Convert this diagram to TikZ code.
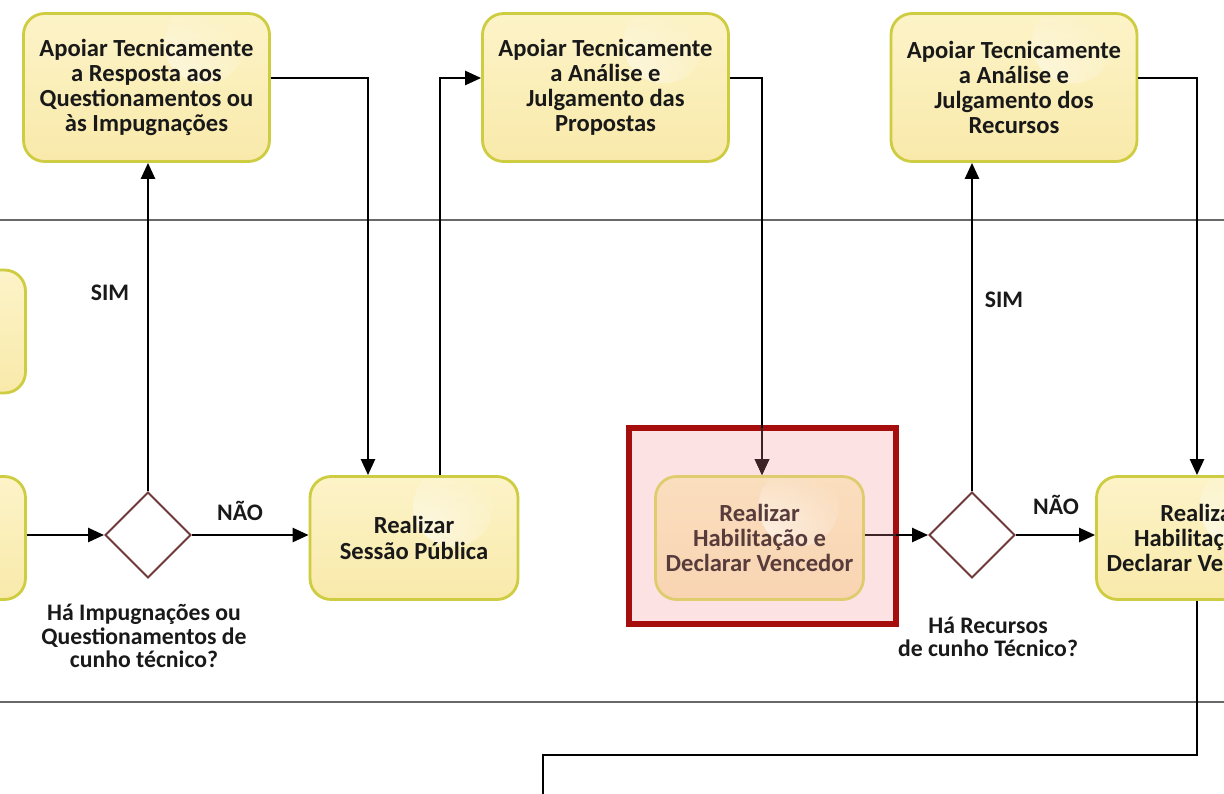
\documentclass[tikz,border=0pt]{standalone}
\usepackage{fontspec}
\setmainfont{Carlito}
\usetikzlibrary{arrows.meta,shapes.geometric,fadings,calc}

\definecolor{taskfill}{RGB}{249,234,170}
\definecolor{tasktop}{RGB}{252,243,200}
\definecolor{taskborder}{RGB}{206,204,64}
\definecolor{gwborder}{RGB}{112,58,58}
\definecolor{hlborder}{RGB}{166,14,14}
\definecolor{hlfill}{RGB}{253,226,228}
\definecolor{selfill}{RGB}{249,212,178}
\definecolor{seltop}{RGB}{250,222,190}
\definecolor{selborder}{RGB}{222,204,110}
\definecolor{seltext}{RGB}{88,60,60}
\definecolor{selarrow}{RGB}{60,35,38}
\definecolor{laneline}{RGB}{105,105,105}

% soft highlight spot inside the boxes
\tikzfading[name=softspot, inner color=transparent!0, outer color=transparent!100]

\tikzset{
  boxfont/.style={font=\bfseries\fontsize{14}{14.3}\selectfont},
  tagfont/.style={font=\bfseries\fontsize{13.5}{13.4}\selectfont},
  glow/.style={path picture={\fill[white,opacity=0.6,path fading=softspot]
      ([xshift=-1.3cm,yshift=-0.6cm]path picture bounding box.north east) circle (0.8cm);}},
  taskbox/.style={draw=taskborder, line width=1.6pt, rounded corners=0.42cm,
      top color=tasktop, bottom color=taskfill, glow,
      minimum width=4.16cm, minimum height=2.46cm, align=center, boxfont,
      text=black!90, inner sep=2pt},
  supportbox/.style={taskbox, minimum width=4.92cm, minimum height=2.96cm},
  selbox/.style={taskbox, draw=selborder, top color=seltop, bottom color=selfill, text=seltext},
  hlbox/.style={draw=hlborder, line width=2.9pt, fill=hlfill,
      minimum width=5.34cm, minimum height=3.92cm, inner sep=0pt},
  gateway/.style={diamond, draw=gwborder, line width=1.1pt, fill=white,
      minimum width=1.72cm, minimum height=1.72cm, inner sep=0pt},
  flow/.style={line width=1.4pt, -{Triangle[length=0.32cm,width=0.28cm]}},
  plainflow/.style={line width=1.4pt},
  tag/.style={tagfont, text=black!90, align=center, inner sep=0pt},
  lane/.style={draw=laneline, line width=1pt}
}

\begin{document}
\begin{tikzpicture}[x=0.02cm, y=-0.02cm]
  \useasboundingbox (0,0) rectangle (1224,794);
  \clip (0,0) rectangle (1224,794);

  % lane dividers
  \draw[lane] (0,220) -- (1224,220);
  \draw[lane] (0,702) -- (1224,702);

  % support tasks (upper lane)
  \node[supportbox] (a1) at (146.5,87.5) {Apoiar Tecnicamente\\a Resposta aos\\Questionamentos ou\\às Impugnações};
  \node[supportbox] (a2) at (605.5,87.5) {Apoiar Tecnicamente\\a Análise e\\Julgamento das\\Propostas};
  \node[supportbox] (a3) at (1014,87.5) {Apoiar Tecnicamente\\a Análise e\\Julgamento dos\\Recursos};

  % tasks cut by the left edge
  \node[taskbox] (l1) at (-78.5,331.5) {};
  \node[taskbox] (l2) at (-78.5,538) {};

  % main lane
  \node[gateway] (g1) at (148,535) {};
  \node[taskbox] (s1) at (414,538) {Realizar\\Sessão Pública};

  \node[hlbox] (hl) at (762.5,526) {};
  \node[selbox] (t1) at (759.5,538) {Realizar\\Habilitação e\\Declarar Vencedor};

  \node[gateway] (g2) at (972,535) {};
  \node[taskbox] (t2) at (1200.5,538) {Realizar\\Habilitação e\\Declarar Vencedor};

  % gateway captions
  \node[tag] (q1) at (144,636) {Há Impugnações ou\\Questionamentos de\\cunho técnico?};
  \node[tag] (q2) at (988,637) {Há Recursos\\de cunho Técnico?};

  % connectors
  \draw[flow] (l2.east |- g1.west) -- (g1.west);
  \draw[flow] (g1.east) -- (g1.east -| s1.west);
  \node[tag] (n1) at (240,511) {NÃO};
  \draw[flow] (g1.north) -- (g1.north |- a1.south);
  \node[tag] (y1) at (110,293) {SIM};

  \draw[flow] ($(a1.east)+(0,-9.5)$) -| ($(s1.north)+(-46,0)$);
  \draw[flow] ($(s1.north)+(26,0)$) |- ($(a2.west)+(0,-9.5)$);

  % the flow into the highlighted task turns darker inside the frame
  \coordinate (intop) at ($(t1.north)+(2.5,0)$);
  \draw[flow] ($(a2.east)+(0,-9.5)$) -| (intop);
  \draw[flow, color=selarrow] ([yshift=-1.5pt]intop |- hl.north) -- (intop);

  \draw[flow] (g2.west -| t1.east) -- (g2.west);
  \draw[plainflow, color=selarrow] (g2.west -| t1.east) -- ([xshift=-1.5pt]g2.west -| hl.east);
  \draw[flow] (g2.east) -- (g2.east -| t2.west);
  \node[tag] (n2) at (1056,505) {NÃO};
  \draw[flow] (g2.north) -- (g2.north |- a3.south);
  \node[tag] (y2) at (1004,300) {SIM};

  \draw[flow] ($(a3.east)+(0,-9.5)$) -| ($(t2.north)+(-3.5,0)$);

  \coordinate (down) at (543,755);
  \coordinate (out) at (543,810);
  \draw[plainflow] ($(t2.south)+(-3.5,0)$) |- (down) -- (out);
\end{tikzpicture}
\end{document}
